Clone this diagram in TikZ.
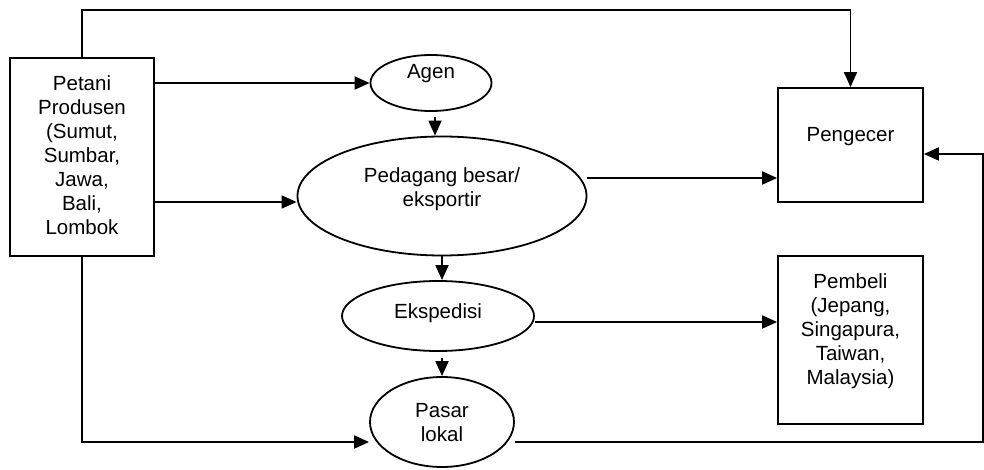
\documentclass[tikz,border=0pt]{standalone}
\usepackage{fontspec}
\setmainfont{Liberation Sans}
\usetikzlibrary{arrows.meta,shapes.geometric}

\tikzset{
  fnt/.style={font=\fontsize{20.5}{24}\selectfont},
  box/.style={draw, line width=1.8pt, rectangle, inner sep=0pt, fill=white},
  oval/.style={draw, line width=1.8pt, ellipse, inner sep=0pt, fill=white},
  txt/.style={fnt, align=center, inner sep=0pt},
  arr/.style={line width=1.8pt, -{Triangle[length=15pt,width=13pt]}},
  link/.style={line width=1.8pt},
}

\begin{document}
\begin{tikzpicture}[x=1pt, y=-1pt]
\useasboundingbox (0,0) rectangle (984,470);

% producers and buyers
\node[box, minimum width=144pt, minimum height=198pt,
      label={[txt, yshift=2pt]center:{Petani\\Produsen\\(Sumut,\\Sumbar,\\Jawa,\\Bali,\\Lombok}}]
      (petani) at (82,157) {};
\node[box, minimum width=145pt, minimum height=114pt,
      label={[txt, yshift=8pt]center:{Pengecer}}]
      (pen) at (850.5,145) {};
\node[box, minimum width=145pt, minimum height=168pt,
      label={[txt, yshift=9pt]center:{Pembeli\\(Jepang,\\Singapura,\\Taiwan,\\Malaysia)}}]
      (pembeli) at (850.5,340) {};

% intermediaries
\node[oval, minimum width=121pt, minimum height=56pt,
      label={[txt, yshift=9pt]center:{Agen}}]
      (agen) at (431,83) {};
\node[oval, minimum width=289pt, minimum height=119pt,
      label={[txt, yshift=7pt]center:{Pedagang besar/\\eksportir}}]
      (ped) at (442,196) {};
\node[oval, minimum width=192pt, minimum height=70pt,
      label={[txt, yshift=3pt]center:{Ekspedisi}}]
      (eksp) at (438,316) {};
\node[oval, minimum width=144pt, minimum height=90pt,
      label={[txt, yshift=-1pt]center:{Pasar\\lokal}}]
      (pasar) at (442,422) {};

% bend points of the long connectors
\coordinate (ctop) at (82,10);
\coordinate (cbot) at (82,442);
\coordinate (cbr) at (983,442);
\coordinate (ctr) at (983,154);

% connectors
\draw[arr] (petani.north) -- (ctop) -| (pen.north);
\draw[arr] (petani.east |- agen.west) -- (agen.west);
\draw[arr] ([yshift=-6pt]ped.west -| petani.east) -- ([yshift=-6pt]ped.west);
\draw[arr] ([xshift=4pt,yshift=-5pt]agen.south) -- ([xshift=-7pt]ped.north);
\draw[arr] ([yshift=18pt]ped.east) -- ([yshift=18pt]ped.east -| pen.west);
\draw[arr] (ped.south) -- (ped.south |- eksp.north);
\draw[arr] ([yshift=-6pt]eksp.east) -- ([yshift=-6pt]eksp.east -| pembeli.west);
\draw[arr] ([yshift=-6pt]eksp.south -| pasar.north) -- (pasar.north);
\draw[arr] (petani.south) -- (cbot) -- (cbot -| pasar.west);
\draw[arr] (cbot -| pasar.east) -- (cbr) -- (ctr) -- (ctr -| pen.east);
\end{tikzpicture}
\end{document}
